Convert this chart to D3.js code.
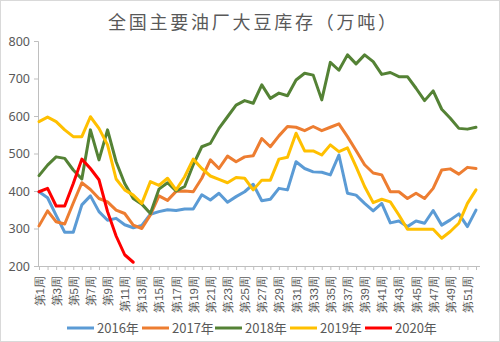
<!DOCTYPE html>
<html><head><meta charset="utf-8">
<script src="https://cdn.jsdelivr.net/npm/d3@7/dist/d3.min.js"></script>
<style>html,body{margin:0;padding:0;background:#fff;}svg{display:block;font-family:"Noto Sans CJK SC","Noto Sans",sans-serif;}</style>
</head><body>
<svg id="c" width="500" height="342"></svg>
<script>
const title = "全国主要油厂大豆库存（万吨）";
const weeks = d3.range(1, 53).map(i => "第" + i + "周");
const yTicks = [200, 300, 400, 500, 600, 700, 800];
const seriesNames = ["2016年", "2017年", "2018年", "2019年", "2020年"];
const seriesColors = ["#5B9BD5", "#ED7D31", "#548235", "#FFC000", "#FF0000"];
const s2016 = [398,382,335,290,290,363,387,345,322,327,310,302,308,338,345,350,348,352,352,390,376,394,370,385,398,418,374,378,407,403,478,460,451,450,443,496,394,389,367,347,367,315,320,305,320,314,348,309,323,339,305,349];
const s2017 = [307,347,318,312,368,422,404,380,371,349,340,309,300,336,387,375,399,400,398,434,483,460,493,478,491,494,540,518,547,572,570,561,572,561,570,579,545,508,470,448,443,398,398,380,394,380,407,456,459,445,463,460];
const s2018 = [441,469,491,487,456,432,563,483,563,478,420,380,365,340,405,422,400,412,470,518,527,567,598,629,641,634,683,647,661,654,696,714,709,643,743,722,763,739,763,745,711,716,705,705,674,641,667,618,594,567,565,570];
const s2019 = [585,597,585,563,545,545,598,567,523,432,403,389,367,425,415,434,403,438,485,460,440,431,422,436,434,403,429,429,485,490,554,507,507,496,523,505,515,465,412,369,378,371,336,298,298,298,298,274,292,314,367,403];
const s2020 = [398,407,360,360,420,485,460,430,345,280,230,210];
const seriesData = [s2016, s2017, s2018, s2019, s2020];

const svg = d3.select("#c");
const textColor = "#595959";
const axisColor = "#BFBFBF";

svg.append("rect").attr("x",0.5).attr("y",0.5).attr("width",499).attr("height",341)
  .attr("fill","#fff").attr("stroke","#D9D9D9");

svg.append("text").attr("x", 252).attr("y", 29).attr("text-anchor","middle")
  .attr("font-size", 18).attr("fill", textColor)
  .attr("textLength", 288).attr("lengthAdjust","spacing").text(title);

const x = d3.scalePoint().domain(weeks).range([39, 476]);
const y = d3.scaleLinear().domain([200, 800]).range([266, 41]);

// y axis
const yAxis = svg.append("g").attr("transform","translate(38,0)")
  .call(d3.axisLeft(y).tickValues(yTicks).tickSize(4).tickPadding(4));
yAxis.selectAll("path,line").attr("stroke", axisColor);
yAxis.selectAll("text").attr("font-size", 12.5).attr("fill", textColor)
  .attr("font-family","'Noto Sans','Noto Sans CJK SC',sans-serif");

// x axis
const xAxis = svg.append("g").attr("transform","translate(0,266)")
  .call(d3.axisBottom(x).tickSize(4).tickSizeOuter(0)
    .tickFormat((d,i) => i % 2 === 0 ? d : ""));
xAxis.select(".domain").attr("d", "M36,0.5H480");
xAxis.selectAll("path,line").attr("stroke", axisColor);
xAxis.selectAll("text").attr("font-size", 11.5).attr("fill", textColor)
  .attr("text-anchor","end").attr("transform","rotate(-90)")
  .attr("x", -10).attr("y", 0).attr("dy","0.35em");

// lines
const line = d3.line().x((d,i) => x(weeks[i])).y(d => y(d));
seriesData.forEach((s, k) => {
  svg.append("path").datum(s).attr("d", line)
    .attr("fill","none").attr("stroke", seriesColors[k])
    .attr("stroke-width", 3).attr("stroke-linejoin","round").attr("stroke-linecap","round");
});

// legend
const legX = [67, 142, 215, 290, 365];
const lg = svg.append("g");
seriesNames.forEach((n, k) => {
  lg.append("line").attr("x1", legX[k]).attr("x2", legX[k] + 27)
    .attr("y1", 328).attr("y2", 328).attr("stroke", seriesColors[k]).attr("stroke-width", 3);
  lg.append("text").attr("x", legX[k] + 30).attr("y", 333)
    .attr("font-size", 13).attr("fill", textColor).text(n);
});
</script>
</body></html>
